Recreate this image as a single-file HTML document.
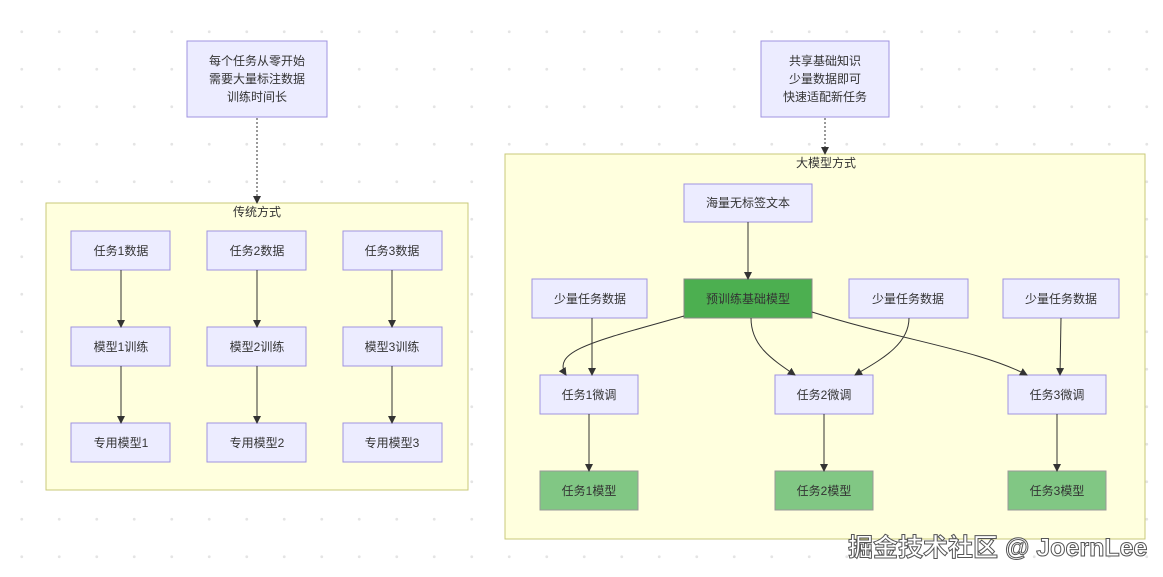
<!DOCTYPE html>
<html><head><meta charset="utf-8"><style>
body{margin:0;width:1163px;height:577px;overflow:hidden;background:#fff;
background-image:radial-gradient(circle,#e4e4e4 1.3px,transparent 1.6px);background-size:37.5px 37.5px;background-position:3px 13px;
font-family:"Liberation Sans","Noto Sans CJK SC",sans-serif;}
svg{position:absolute;left:0;top:0}
.wm{position:absolute;left:848px;top:528px;font-size:25px;color:#fff;-webkit-text-stroke:1px #555;white-space:nowrap;font-weight:bold}
</style></head><body>
<svg width="1163" height="577" font-family="Liberation Sans, Noto Sans CJK SC, sans-serif" font-size="12" fill="#333">
<defs><marker id="a" markerWidth="8" markerHeight="8" refX="7" refY="4" orient="auto" markerUnits="userSpaceOnUse"><path d="M0,0L8,4L0,8z" fill="#333"/></marker></defs>
<g stroke="#c9c97a" fill="#ffffde" stroke-width="1">
<rect x="46" y="203" width="422" height="287"/>
<rect x="505" y="154" width="640" height="385"/>
</g>
<g text-anchor="middle">
<text x="257" y="216">传统方式</text>
<text x="826" y="167">大模型方式</text>
</g>
<g stroke="#9f93e0" fill="#ececff">
<rect x="187" y="41" width="140" height="76"/>
<rect x="761" y="41" width="128" height="76"/>
<rect x="71" y="231" width="99" height="39"/><rect x="207" y="231" width="99" height="39"/><rect x="343" y="231" width="99" height="39"/>
<rect x="71" y="327" width="99" height="39"/><rect x="207" y="327" width="99" height="39"/><rect x="343" y="327" width="99" height="39"/>
<rect x="71" y="423" width="99" height="39"/><rect x="207" y="423" width="99" height="39"/><rect x="343" y="423" width="99" height="39"/>
<rect x="684" y="184" width="128" height="38"/>
<rect x="532" y="279" width="115" height="39"/><rect x="849" y="279" width="119" height="39"/><rect x="1003" y="279" width="116" height="39"/>
<rect x="540" y="375" width="98" height="39"/><rect x="775" y="375" width="98" height="39"/><rect x="1008" y="375" width="98" height="39"/>
</g>
<rect x="684" y="279" width="128" height="39" fill="#4caf50" stroke="#888"/>
<g fill="#81c784" stroke="#999">
<rect x="540" y="471" width="98" height="39"/><rect x="775" y="471" width="98" height="39"/><rect x="1008" y="471" width="98" height="39"/>
</g>
<g stroke="#333" fill="none" stroke-width="1" marker-end="url(#a)">
<path d="M257,118V203" stroke-dasharray="2,2"/>
<path d="M825,118V154" stroke-dasharray="2,2"/>
<path d="M121,270V327"/><path d="M257,270V327"/><path d="M392,270V327"/>
<path d="M121,366V423"/><path d="M257,366V423"/><path d="M392,366V423"/>
<path d="M748,222V279"/>
<path d="M592,318V375"/>
<path d="M684,316C600,340 550,350 566,375"/>
<path d="M751,318C751,345 770,358 795,375"/>
<path d="M909,318C909,345 880,360 855,375"/>
<path d="M812,312C900,340 980,350 1027,375"/>
<path d="M1061,318L1060,375"/>
<path d="M589,414V471"/><path d="M824,414V471"/><path d="M1057,414V471"/>
</g>
<g text-anchor="middle" font-size="12">
<text x="257" y="65">每个任务从零开始</text><text x="257" y="83">需要大量标注数据</text><text x="257" y="101">训练时间长</text>
<text x="825" y="65">共享基础知识</text><text x="825" y="83">少量数据即可</text><text x="825" y="101">快速适配新任务</text>
<text x="121" y="255">任务1数据</text><text x="257" y="255">任务2数据</text><text x="392" y="255">任务3数据</text>
<text x="121" y="351">模型1训练</text><text x="257" y="351">模型2训练</text><text x="392" y="351">模型3训练</text>
<text x="121" y="447">专用模型1</text><text x="257" y="447">专用模型2</text><text x="392" y="447">专用模型3</text>
<text x="748" y="207">海量无标签文本</text>
<text x="748" y="303">预训练基础模型</text>
<text x="590" y="303">少量任务数据</text><text x="908" y="303">少量任务数据</text><text x="1061" y="303">少量任务数据</text>
<text x="589" y="399">任务1微调</text><text x="824" y="399">任务2微调</text><text x="1057" y="399">任务3微调</text>
<text x="589" y="495">任务1模型</text><text x="824" y="495">任务2模型</text><text x="1057" y="495">任务3模型</text>
</g>
</svg>
<div class="wm">掘金技术社区 @ JoernLee</div>
</body></html>
